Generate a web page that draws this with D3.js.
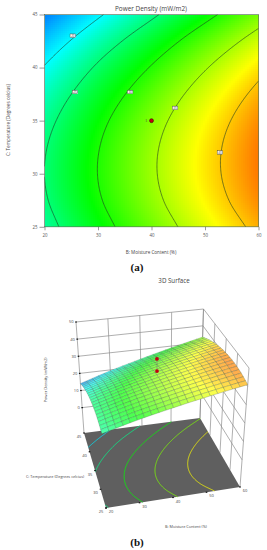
<!DOCTYPE html>
<html>
<head>
<meta charset="utf-8">
<style>
  html, body { margin: 0; padding: 0; background: #fff; }
  svg { display: block; }
  text { font-family: "Open Sans", sans-serif; fill: #444; }
</style>
<script src="https://cdn.jsdelivr.net/npm/d3@7"></script>
</head>
<body>
<div id="chart"></div>
<script>
"use strict";

/*
 * # Data
 * powerDensity holds one row per temperature, one column per moisture value.
 */
var moistureValues = [20, 25, 30, 35, 40, 45, 50, 55, 60];
var temperatureValues = [25, 27.5, 30, 32.5, 35, 37.5, 40, 42.5, 45];
var powerDensity = [
  [23.66, 26.15, 28.57, 30.79, 32.93, 35.03, 37.05, 39.01, 40.91],
  [24.65, 27.16, 29.62, 31.86, 34.04, 36.17, 38.22, 40.21, 42.15],
  [25.01, 27.56, 30.05, 32.32, 34.53, 36.69, 38.78, 40.79, 42.76],
  [24.75, 27.32, 29.84, 32.15, 34.39, 36.58, 38.70, 40.75, 42.75],
  [23.86, 26.47, 29.02, 31.36, 33.63, 35.85, 38.00, 40.08, 42.11],
  [22.35, 24.99, 27.57, 29.94, 32.24, 34.49, 36.67, 38.78, 40.85],
  [20.21, 22.88, 25.50, 27.90, 30.23, 32.51, 34.73, 36.87, 38.96],
  [17.45, 20.15, 22.79, 25.23, 27.59, 29.90, 32.15, 34.32, 36.45],
  [14.06, 16.80, 19.47, 21.94, 24.33, 26.68, 28.95, 31.16, 33.31]
];

var contourLevels = [20, 25, 30, 35, 40];
var floorLevels = [19, 24, 29, 33.5, 38];
var labelMoisture = [25.3, 25.7, 36, 44.4, 52.8];
var labelTemperature = [43, 37.7, 37.7, 36.2, 32];

var moistureTicks = [20, 30, 40, 50, 60];
var temperatureTicks = [25, 30, 35, 40, 45];
var densityTicks = [0, 10, 20, 30, 40, 50];

var designMoisture = 40;
var designTemperature = 35;
var designHigh = 42.5;
var designLow = 35.7;

var colorStops = [8, 20, 29, 38, 47];
var colorNames = ["#0000ff", "#00ffff", "#00ff00", "#ffff00", "#ff0000"];

var heat = d3.scaleLinear().domain(colorStops).range(colorNames);

/*
 * # Smooth reading of the table
 * Catmull-Rom between the table nodes, so contours and mesh do not show kinks.
 */
function spline(vals, x) {
  var n = vals.length;
  var i = Math.min(Math.floor(x), n - 2);
  var t = x - i;
  var at = function (k) {
    if (k < 0) return 2 * vals[0] - vals[1];
    if (k >= n) return 2 * vals[n - 1] - vals[n - 2];
    return vals[k];
  };
  var p0 = at(i - 1), p1 = at(i), p2 = at(i + 1), p3 = at(i + 2);
  return 0.5 * (2 * p1 + (p2 - p0) * t +
    (2 * p0 - 5 * p1 + 4 * p2 - p3) * t * t +
    (3 * p1 - p0 - 3 * p2 + p3) * t * t * t);
}

var moistureIndex = d3.scaleLinear().domain(d3.extent(moistureValues)).range([0, moistureValues.length - 1]);
var temperatureIndex = d3.scaleLinear().domain(d3.extent(temperatureValues)).range([0, temperatureValues.length - 1]);

function density(b, c) {
  var xi = moistureIndex(b);
  var column = powerDensity.map(function (row) { return spline(row, xi); });
  return spline(column, temperatureIndex(c));
}

/*
 * # Contour runs
 * d3.contours closes its rings along the grid rim. Only the parts inside the
 * grid are real contour lines, so the rim points are cut out here.
 */
var gridSize = 161;
var gridValues = [];
var gridMoisture = d3.scaleLinear().domain([0.5, gridSize - 0.5]).range(d3.extent(moistureValues));
var gridTemperature = d3.scaleLinear().domain([0.5, gridSize - 0.5]).range(d3.extent(temperatureValues));
d3.range(gridSize).forEach(function (j) {
  d3.range(gridSize).forEach(function (i) {
    gridValues.push(density(gridMoisture(i + 0.5), gridTemperature(j + 0.5)));
  });
});

function contourRunsFor(levels) {
  return d3.contours().size([gridSize, gridSize]).thresholds(levels)(gridValues).map(function (shape) {
    var runs = [];
    shape.coordinates.forEach(function (polygon) {
      polygon.forEach(function (ring) {
        var run = [];
        ring.forEach(function (p) {
          if (p[0] <= 0 || p[1] <= 0 || p[0] >= gridSize || p[1] >= gridSize) {
            if (run.length > 1) runs.push(run);
            run = [];
          } else {
            run.push([gridMoisture(p[0]), gridTemperature(p[1])]);
          }
        });
        if (run.length > 1) runs.push(run);
      });
    });
    return { level: shape.value, runs: runs };
  });
}

var svg = d3.select("#chart").append("svg").attr("width", 267).attr("height", 550);

/*
 * # Panel (a): contour plot
 */
var panelA = svg.append("g");
var x = d3.scaleLinear().domain([20, 60]).range([44.5, 258.5]);
var y = d3.scaleLinear().domain([25, 45]).range([226.8, 14.5]);

var cellW = 2, cellH = 2;
var heatCells = [];
d3.range(x(20), x(60), cellW).forEach(function (px) {
  d3.range(y(45), y(25), cellH).forEach(function (py) {
    heatCells.push({ px: px, py: py });
  });
});
panelA.append("g").selectAll("rect")
  .data(heatCells)
  .enter()
  .append("rect")
  .attr("x", function (d) { return d.px; })
  .attr("y", function (d) { return d.py; })
  .attr("width", function (d) { return Math.min(cellW, x(60) - d.px); })
  .attr("height", function (d) { return Math.min(cellH, y(25) - d.py); })
  .attr("shape-rendering", "crispEdges")
  .attr("fill", function (d) {
    return heat(density(x.invert(d.px + 1), y.invert(d.py + 1)));
  });

var contourLine = d3.line()
  .x(function (p) { return x(p[0]); })
  .y(function (p) { return y(p[1]); });

contourRunsFor(contourLevels).forEach(function (shape) {
  panelA.append("g").selectAll("path")
    .data(shape.runs)
    .enter()
    .append("path")
    .attr("d", contourLine)
    .attr("fill", "none")
    .attr("stroke", "#1d3a24")
    .attr("stroke-width", 0.6);
});

panelA.append("rect")
  .attr("x", x(20)).attr("y", y(45))
  .attr("width", x(60) - x(20)).attr("height", y(25) - y(45))
  .attr("fill", "none").attr("stroke", "#5d7560").attr("stroke-width", 0.7);

var xAxis = d3.axisBottom(x).tickValues(moistureTicks).tickSize(3.5).tickPadding(4);
var yAxis = d3.axisLeft(y).tickValues(temperatureTicks).tickSize(5).tickPadding(2);

panelA.append("g").attr("class", "axis")
  .attr("transform", "translate(0," + y(25) + ")")
  .call(xAxis);
panelA.append("g").attr("class", "axis")
  .attr("transform", "translate(" + x(20) + ",0)")
  .call(yAxis);

// contour labels
var labelGroup = panelA.append("g").selectAll("g")
  .data(contourLevels)
  .enter()
  .append("g")
  .attr("transform", function (d, i) {
    return "translate(" + x(labelMoisture[i]) + "," + y(labelTemperature[i]) + ")";
  });
labelGroup.append("rect")
  .attr("x", -2.8).attr("y", -1.8).attr("width", 5.6).attr("height", 3.6)
  .attr("fill", "#fff").attr("stroke", "#333").attr("stroke-width", 0.4);
labelGroup.append("text")
  .attr("text-anchor", "middle").attr("y", 1.1)
  .attr("font-size", 3).attr("fill", "#555")
  .text(function (d) { return d; });

panelA.append("circle")
  .attr("cx", x(designMoisture)).attr("cy", y(designTemperature)).attr("r", 2)
  .attr("fill", "#c00010").attr("stroke", "#300").attr("stroke-width", 0.5);
panelA.append("text")
  .attr("x", x(designMoisture) - 4.5).attr("y", y(designTemperature) + 0.9)
  .attr("text-anchor", "end").attr("font-size", 2.6)
  .text("3");

panelA.append("text")
  .attr("x", 151).attr("y", 11.3).attr("text-anchor", "middle")
  .attr("font-size", 6.4).text("Power Density (mW/m2)");
panelA.append("text")
  .attr("transform", "translate(9.5,120) rotate(-90)").attr("text-anchor", "middle")
  .attr("font-size", 4.7).text("C: Temperature (Degrees celcius)");
panelA.append("text")
  .attr("x", 151).attr("y", 253.8).attr("text-anchor", "middle")
  .attr("font-size", 4.6).text("B: Moisture Content (%)");
svg.append("text")
  .attr("x", 137).attr("y", 271).attr("text-anchor", "middle")
  .attr("font-size", 11).attr("font-weight", "bold")
  .style("font-family", "'Liberation Serif', serif").style("fill", "#111")
  .text("(a)");

/*
 * # Panel (b): 3D surface
 * Box corners on the page, floor and top. Anything inside is a blend of them.
 */
var panelB = svg.append("g");
var floorCorners = { bl: [84, 433], br: [200, 418], fr: [240, 487], fl: [106, 508] };
var topCorners = { bl: [76, 322], br: [203.5, 309], fr: [249, 368], fl: [99, 383] };

var across = d3.scaleLinear().domain([20, 60]).range([0, 1]);
var depth = d3.scaleLinear().domain([25, 45]).range([0, 1]);
var rise = d3.scaleLinear().domain([-14.8, 50]).range([0, 1]);

function onPlane(corners, b, c) {
  var s = across(b), t = depth(c);
  return [0, 1].map(function (k) {
    var front = corners.fl[k] + (corners.fr[k] - corners.fl[k]) * s;
    var back = corners.bl[k] + (corners.br[k] - corners.bl[k]) * s;
    return front + (back - front) * t;
  });
}

function project(b, c, z) {
  var f = onPlane(floorCorners, b, c);
  var u = onPlane(topCorners, b, c);
  var h = rise(z);
  return [f[0] + (u[0] - f[0]) * h, f[1] + (u[1] - f[1]) * h];
}

var projected = d3.line();

function wallLine(points, color, width) {
  panelB.append("path")
    .attr("d", projected(points))
    .attr("fill", "none")
    .attr("stroke", color)
    .attr("stroke-width", width);
}

// back wall and right wall
densityTicks.forEach(function (z) {
  wallLine([project(20, 45, z), project(60, 45, z), project(60, 25, z)], "#8c8c8c", 0.7);
});
moistureTicks.forEach(function (b) {
  wallLine([project(b, 45, -14.8), project(b, 45, 50)], "#8c8c8c", 0.7);
});
temperatureTicks.forEach(function (c) {
  wallLine([project(60, c, -14.8), project(60, c, 50)], "#8c8c8c", 0.7);
});

// floor
panelB.append("path")
  .attr("d", projected([project(20, 25, -14.8), project(60, 25, -14.8), project(60, 45, -14.8), project(20, 45, -14.8)]) + "Z")
  .attr("fill", "#5f5f5f");

var floorLine = d3.line()
  .x(function (p) { return project(p[0], p[1], -14.8)[0]; })
  .y(function (p) { return project(p[0], p[1], -14.8)[1]; });

contourRunsFor(floorLevels).forEach(function (shape) {
  panelB.append("g").selectAll("path")
    .data(shape.runs)
    .enter()
    .append("path")
    .attr("d", floorLine)
    .attr("fill", "none")
    .attr("stroke", d3.interpolateRgb(heat(shape.level), "#606060")(0.12))
    .attr("stroke-width", 0.9);
});

// surface mesh, drawn back to front
var meshSteps = 20;
var meshB = d3.scaleLinear().domain([0, meshSteps]).range([20, 60]);
var meshC = d3.scaleLinear().domain([0, meshSteps]).range([45, 25]);
var meshCells = [];
d3.range(meshSteps).forEach(function (j) {
  d3.range(meshSteps).forEach(function (i) {
    meshCells.push({
      corners: [[i, j], [i + 1, j], [i + 1, j + 1], [i, j + 1]].map(function (g) {
        return [meshB(g[0]), meshC(g[1])];
      })
    });
  });
});

panelB.append("g").selectAll("path")
  .data(meshCells)
  .enter()
  .append("path")
  .attr("d", function (d) {
    return projected(d.corners.map(function (p) {
      return project(p[0], p[1], density(p[0], p[1]));
    })) + "Z";
  })
  .attr("fill", function (d) {
    var mid = density(d3.mean(d.corners, function (p) { return p[0]; }), d3.mean(d.corners, function (p) { return p[1]; }));
    return d3.interpolateRgb(heat(mid), "#ffffff")(0.3);
  })
  .attr("stroke", "#2c4a38")
  .attr("stroke-opacity", 0.5)
  .attr("stroke-width", 0.45);

// design points
wallLine([project(designMoisture, designTemperature, designHigh), project(designMoisture, designTemperature, designLow)], "#777", 0.5);
[designHigh, designLow].forEach(function (z) {
  var p = project(designMoisture, designTemperature, z);
  panelB.append("circle")
    .attr("cx", p[0]).attr("cy", p[1]).attr("r", 1.9)
    .attr("fill", "#c00010");
});

// z ticks on the back left corner
densityTicks.forEach(function (z) {
  var p = project(20, 45, z);
  panelB.append("rect")
    .attr("x", p[0] - 0.8).attr("y", p[1] - 0.6).attr("width", 1.6).attr("height", 1.2)
    .attr("fill", "#111");
  panelB.append("text")
    .attr("x", p[0] - 2.5).attr("y", p[1] + 1.4)
    .attr("text-anchor", "end").attr("font-size", 4)
    .text(z);
});

// floor ticks and labels
moistureTicks.forEach(function (b) {
  var p = project(b, 25, -14.8);
  panelB.append("rect")
    .attr("x", p[0] - 0.8).attr("y", p[1] - 0.6).attr("width", 1.6).attr("height", 1.2)
    .attr("fill", "#111");
  panelB.append("text")
    .attr("x", p[0] + 5).attr("y", p[1] + 5)
    .attr("text-anchor", "middle").attr("font-size", 4)
    .text(b);
});
temperatureTicks.forEach(function (c) {
  var p = project(20, c, -14.8);
  panelB.append("rect")
    .attr("x", p[0] - 0.8).attr("y", p[1] - 0.6).attr("width", 1.6).attr("height", 1.2)
    .attr("fill", "#111");
  panelB.append("text")
    .attr("x", p[0] - 5).attr("y", p[1] + 5)
    .attr("text-anchor", "middle").attr("font-size", 4)
    .text(c);
});

panelB.append("text")
  .attr("x", 174).attr("y", 283.3).attr("text-anchor", "middle")
  .attr("font-size", 6.2).text("3D Surface");
panelB.append("text")
  .attr("transform", "translate(46.5,380) rotate(-90)").attr("text-anchor", "middle")
  .attr("font-size", 4).text("Power Density (mW/m2)");
panelB.append("text")
  .attr("x", 55).attr("y", 478.2).attr("text-anchor", "middle")
  .attr("font-size", 3.8).text("C: Temperature (Degrees celcius)");
panelB.append("text")
  .attr("x", 186).attr("y", 528.4).attr("text-anchor", "middle")
  .attr("font-size", 3.8).text("B: Moisture Content (%)");
svg.append("text")
  .attr("x", 137).attr("y", 546).attr("text-anchor", "middle")
  .attr("font-size", 11).attr("font-weight", "bold")
  .style("font-family", "'Liberation Serif', serif").style("fill", "#111")
  .text("(b)");

// axis styling
svg.selectAll(".axis text").attr("font-size", 4.4).style("fill", "#555");
svg.selectAll(".axis line").attr("stroke", "#555").attr("stroke-width", 0.6);
svg.selectAll(".axis .domain").attr("stroke", "none");
</script>
</body>
</html>
